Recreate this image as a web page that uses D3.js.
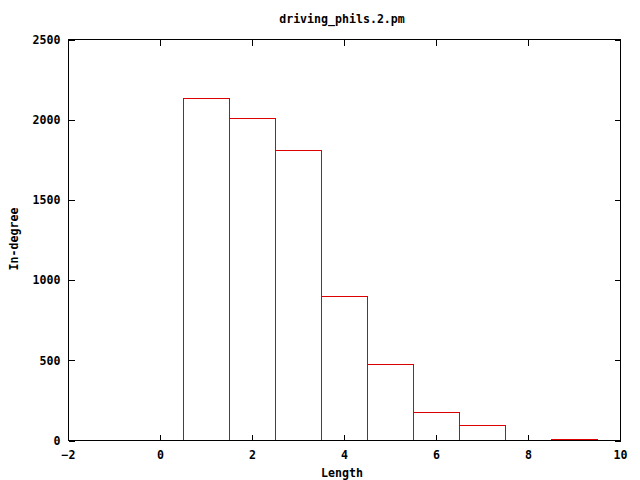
<!DOCTYPE html>
<html>
<head>
<meta charset="utf-8">
<script src="https://cdn.jsdelivr.net/npm/d3@7"></script>
<style>
html,body{margin:0;padding:0;background:#fff;}
svg text{font-family:"DejaVu Sans Mono","Liberation Mono",monospace;font-weight:bold;fill:#000;}
</style>
</head>
<body>
<svg id="chart" width="640" height="480"></svg>
<script>
// Data
const lengths = [1, 2, 3, 4, 5, 6, 7, 8, 9];
const inDegree = [2135, 2005, 1805, 895, 472, 172, 94, 0, 8];
const xTicks = [-2, 0, 2, 4, 6, 8, 10];
const yTicks = [0, 500, 1000, 1500, 2000, 2500];
const title = "driving_phils.2.pm";
const xLabel = "Length";
const yLabel = "In-degree";
const barColor = "#dd0000";

(function () {
const svg = d3.select("#chart");
const pLeft = 68.5, pRight = 620.5, pTop = 39.5, pBottom = 440.5;
const fs = 11.6;

const x = d3.scaleLinear().domain([-2, 10]).range([pLeft, pRight]);
const y = d3.scaleLinear().domain([0, 2500]).range([pBottom, pTop]);

// Bars (boxes width 1 centered on value)
const data = lengths.map((l, i) => ({l, v: inDegree[i]}));
const gb = svg.append("g");
data.filter(d => d.v > 0).forEach(d => {
  const x0 = Math.floor(x(d.l - 0.5)) + 0.5;
  const x1 = Math.floor(x(d.l + 0.5)) + 0.5;
  const y0 = Math.round(y(d.v) - 0.5) + 0.5;
  gb.append("path")
    .attr("d", `M${x0},${pBottom}V${y0}H${x1}V${pBottom}`)
    .attr("fill", "none")
    .attr("stroke", barColor)
    .attr("stroke-width", 1)
    .attr("shape-rendering", "crispEdges");
});

// Axes via d3 axis generators (ticks inward)
const tickLen = 6;
const xAxisB = d3.axisBottom(x).tickValues(xTicks).tickSize(-tickLen).tickPadding(tickLen + 5).tickFormat(d3.format("d"));
const xAxisT = d3.axisTop(x).tickValues(xTicks).tickSize(-tickLen).tickFormat("");
const yAxisL = d3.axisLeft(y).tickValues(yTicks).tickSize(-tickLen).tickPadding(8).tickFormat(d3.format("d"));
const yAxisR = d3.axisRight(y).tickValues(yTicks).tickSize(-tickLen).tickFormat("");

function styleAxis(g) {
  g.select(".domain").remove();
  g.selectAll(".tick line").attr("stroke", "#000").attr("shape-rendering", "crispEdges");
  g.selectAll(".tick text").attr("font-size", fs).attr("font-family", null);
}
svg.append("g").attr("transform", `translate(-0.5,${pBottom})`).call(xAxisB).call(styleAxis)
  .selectAll(".tick text").attr("dy", "0.35em").attr("y", 14);
svg.append("g").attr("transform", `translate(-0.5,${pTop})`).call(xAxisT).call(styleAxis);
svg.append("g").attr("transform", `translate(${pLeft},0)`).call(yAxisL).call(styleAxis);
svg.append("g").attr("transform", `translate(${pRight},0)`).call(yAxisR).call(styleAxis);

// Border
svg.append("rect").attr("x", pLeft).attr("y", pTop)
  .attr("width", pRight - pLeft).attr("height", pBottom - pTop)
  .attr("fill", "none").attr("stroke", "#000").attr("stroke-width", 1)
  .attr("shape-rendering", "crispEdges");

// Titles
svg.append("text").attr("x", 342).attr("y", 23).attr("text-anchor", "middle")
  .attr("font-size", fs).text(title);
svg.append("text").attr("x", 342).attr("y", 477).attr("text-anchor", "middle")
  .attr("font-size", fs).text(xLabel);
svg.append("text").attr("transform", "translate(18,239) rotate(-90)")
  .attr("text-anchor", "middle").attr("font-size", fs).text(yLabel);
})();
</script>
</body>
</html>
